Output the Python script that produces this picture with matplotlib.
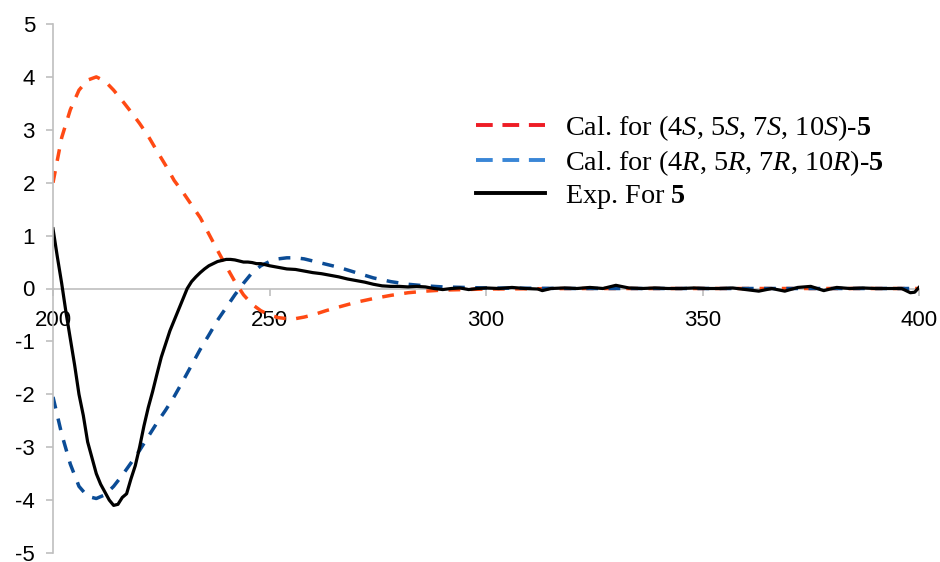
import matplotlib
matplotlib.use("Agg")
import matplotlib.pyplot as plt
from matplotlib.lines import Line2D

# ---- data ----
wl_calc = [200, 202, 204, 206, 208, 210, 212, 214, 216, 218, 220, 222, 224, 226, 228,
           230, 232, 234, 236, 238, 240, 242, 244, 246, 248, 250, 252, 254, 256, 258,
           260, 263, 266, 270, 274, 278, 282, 286, 290, 295, 300, 320, 350, 400]
cd_S = [2.0, 2.85, 3.38, 3.75, 3.94, 4.0, 3.92, 3.75, 3.55, 3.34, 3.12, 2.88, 2.6, 2.33, 2.04,
        1.82, 1.58, 1.34, 1.03, 0.72, 0.42, 0.13, -0.12, -0.3, -0.42, -0.5, -0.55, -0.57, -0.57, -0.54,
        -0.5, -0.42, -0.35, -0.26, -0.19, -0.13, -0.08, -0.05, -0.03, -0.02, -0.01, 0.0, 0.0, 0.0]
cd_R = [-2.05, -2.75, -3.32, -3.74, -3.93, -3.97, -3.9, -3.74, -3.53, -3.3, -3.06, -2.8, -2.54, -2.3, -2.04,
        -1.75, -1.45, -1.15, -0.88, -0.6, -0.36, -0.12, 0.1, 0.3, 0.43, 0.51, 0.56, 0.58, 0.58, 0.56,
        0.52, 0.46, 0.4, 0.3, 0.2, 0.13, 0.08, 0.05, 0.03, 0.02, 0.01, 0.0, 0.0, 0.0]

wl_exp = [200, 201, 202, 203, 204, 205, 206, 207, 208, 209, 210, 211, 212, 213, 214, 215, 216, 217,
          218, 219, 220, 221, 222, 223, 224, 225, 226, 227, 228, 229, 230, 231, 232, 233, 234, 235,
          236, 237, 238, 239, 240, 241, 242, 243, 244, 245, 246, 247, 248, 249, 250, 252, 254, 256,
          258, 260, 262, 264, 266, 268, 270, 272, 274, 276, 278, 280, 282, 284, 286, 288, 290, 292,
          294, 296, 298, 300, 303, 306, 309, 312, 313, 315, 318, 321, 324, 327, 330, 333, 336, 339,
          342, 345, 348, 351, 354, 357, 360, 363, 366, 369, 372, 375, 378, 381, 384, 387, 390, 393,
          396, 398, 399, 400]
cd_exp = [1.13, 0.6, 0.1, -0.45, -0.95, -1.45, -2.0, -2.4, -2.9, -3.2, -3.5, -3.7, -3.85, -4.0, -4.1, -4.08, -3.95, -3.88,
          -3.6, -3.35, -3.0, -2.6, -2.25, -1.95, -1.62, -1.3, -1.05, -0.8, -0.6, -0.4, -0.2, 0.0, 0.13, 0.22, 0.3, 0.37,
          0.43, 0.47, 0.51, 0.53, 0.55, 0.55, 0.54, 0.52, 0.5, 0.5, 0.49, 0.47, 0.47, 0.45, 0.43, 0.4, 0.37, 0.36,
          0.33, 0.3, 0.28, 0.25, 0.22, 0.18, 0.15, 0.12, 0.08, 0.05, 0.04, 0.04, 0.03, 0.04, 0.03, 0.0, -0.02, 0.0,
          0.01, -0.02, 0.0, 0.01, 0.0, 0.02, 0.0, -0.01, -0.04, 0.0, 0.01, 0.0, 0.02, 0.0, 0.06, 0.01, 0.0, 0.01,
          0.0, 0.0, 0.01, 0.0, 0.0, 0.01, -0.02, -0.05, 0.0, -0.05, 0.02, 0.04, -0.04, 0.02, 0.0, 0.01, 0.0, 0.0,
          0.0, -0.08, -0.07, 0.02]

labels = [r"Cal. for (4$\it{S}$, 5$\it{S}$, 7$\it{S}$, 10$\it{S}$)-$\bf{5}$",
          r"Cal. for (4$\it{R}$, 5$\it{R}$, 7$\it{R}$, 10$\it{R}$)-$\bf{5}$",
          r"Exp. For $\bf{5}$"]

# ---- style ----
plt.rcParams['font.family'] = 'Liberation Sans'
plt.rcParams['axes.unicode_minus'] = False
plt.rcParams['mathtext.fontset'] = 'custom'
plt.rcParams['mathtext.rm'] = 'Liberation Serif'
plt.rcParams['mathtext.it'] = 'Liberation Serif:italic'
plt.rcParams['mathtext.bf'] = 'Liberation Serif:bold'

fig = plt.figure(figsize=(9.4, 5.62), dpi=100)
ax = fig.add_axes([53/940, 1 - 553/562, (919 - 53)/940, (553 - 24)/562])

ax.plot(wl_calc, cd_S, color='#FF4A14', lw=2.5, dashes=(3.4, 3.0))
ax.plot(wl_calc, cd_R, color='#0B4C96', lw=2.5, dashes=(3.4, 3.0))
ax.plot(wl_exp, cd_exp, color='black', lw=2.3)

ax.set_xlim(200, 400)
ax.set_ylim(-5, 5)
ax.set_xticks([200, 250, 300, 350, 400])
ax.set_yticks(range(-5, 6))

grey = '#BFBFBF'
ax.spines['top'].set_visible(False)
ax.spines['right'].set_visible(False)
ax.spines['bottom'].set_position(('data', 0))
ax.spines['bottom'].set_color(grey)
ax.spines['left'].set_color(grey)
ax.spines['bottom'].set_linewidth(1.2)
ax.spines['left'].set_linewidth(1.2)
ax.spines['bottom'].set_zorder(0)
ax.tick_params(axis='both', colors=grey, labelcolor='black', labelsize=16, width=1.2, length=5)
ax.tick_params(axis='y', pad=8)
ax.tick_params(axis='x', pad=10.5)

# legend colours differ from the curve colours in the original
handles = [Line2D([], [], color='#EE1C25', lw=2.8, dashes=(4.3, 2.5)),
           Line2D([], [], color='#3A86D6', lw=2.8, dashes=(4.3, 2.5)),
           Line2D([], [], color='black', lw=2.8)]
leg = fig.legend(handles, labels, loc='upper left', bbox_to_anchor=(476/940, 1 - 113/562),
                 frameon=False, borderpad=0, borderaxespad=0, handlelength=2.45,
                 handletextpad=0.7, labelspacing=0.18,
                 prop={'family': 'Liberation Serif', 'size': 20.3})

fig.savefig('out.png', dpi=100)
